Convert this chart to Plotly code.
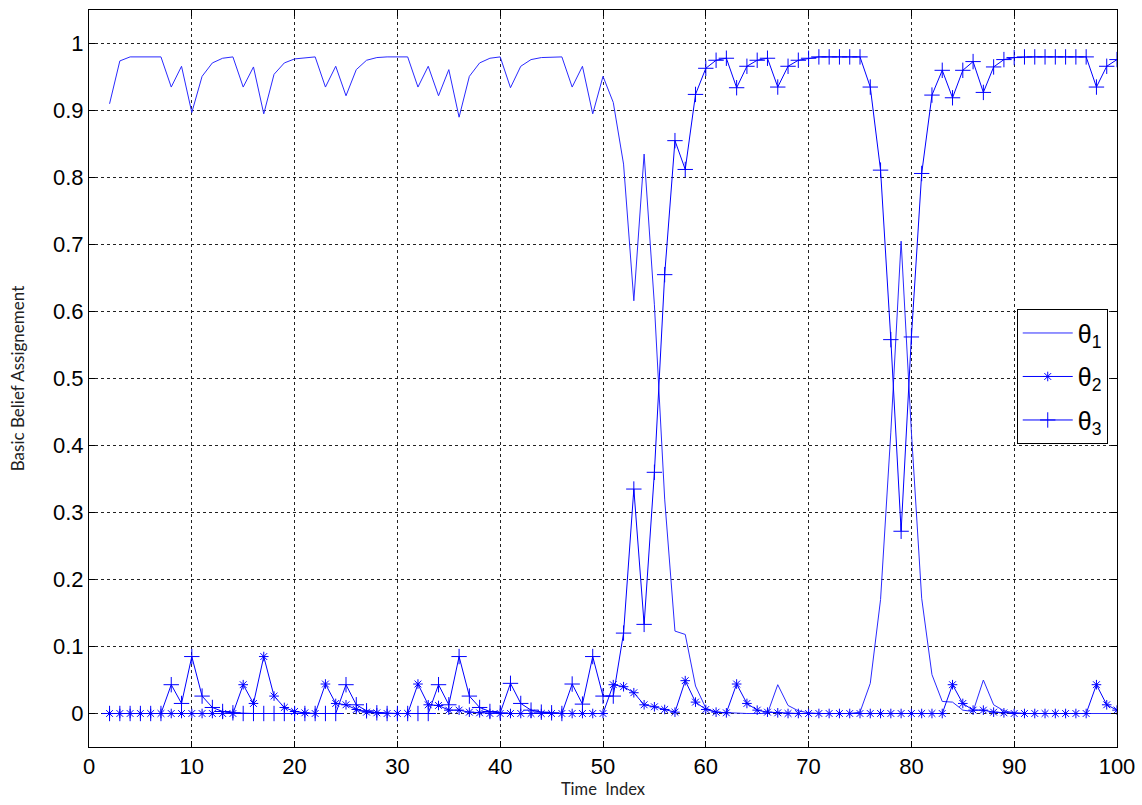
import plotly.graph_objects as go

time_index = list(range(2, 101))

theta1 = [
    0.910, 0.974, 0.980, 0.980, 0.980, 0.980, 0.935, 0.966, 0.897, 0.951,
    0.971, 0.978, 0.980, 0.935, 0.965, 0.895, 0.954, 0.971, 0.977, 0.979,
    0.980, 0.935, 0.966, 0.922, 0.961, 0.975, 0.979, 0.980, 0.980, 0.980,
    0.935, 0.966, 0.922, 0.961, 0.890, 0.951, 0.971, 0.978, 0.980, 0.934,
    0.966, 0.976, 0.979, 0.980, 0.980, 0.935, 0.966, 0.895, 0.951, 0.912,
    0.820, 0.616, 0.835, 0.610, 0.320, 0.123, 0.118, 0.041, 0.008, 0.002,
    0.001, 0.000, 0.000, 0.000, 0.000, 0.043, 0.012, 0.004, 0.001, 0.000,
    0.000, 0.000, 0.000, 0.002, 0.045, 0.170, 0.420, 0.705, 0.420, 0.172,
    0.058, 0.018, 0.017, 0.005, 0.003, 0.050, 0.013, 0.004, 0.001, 0.000,
    0.000, 0.000, 0.000, 0.000, 0.000, 0.000, 0.000, 0.000, 0.000,
]

theta2 = [
    0.000, 0.000, 0.000, 0.000, 0.000, 0.000, 0.000, 0.000, 0.000, 0.000,
    0.000, 0.000, 0.000, 0.043, 0.015, 0.085, 0.026, 0.009, 0.003, 0.001,
    0.000, 0.044, 0.015, 0.013, 0.006, 0.002, 0.001, 0.000, 0.000, 0.000,
    0.044, 0.013, 0.012, 0.005, 0.005, 0.002, 0.001, 0.000, 0.000, 0.000,
    0.000, 0.000, 0.000, 0.000, 0.000, 0.000, 0.000, 0.000, 0.000, 0.043,
    0.040, 0.031, 0.013, 0.010, 0.006, 0.002, 0.049, 0.017, 0.006, 0.002,
    0.001, 0.044, 0.015, 0.005, 0.002, 0.001, 0.000, 0.000, 0.000, 0.000,
    0.000, 0.000, 0.000, 0.000, 0.000, 0.000, 0.000, 0.000, 0.000, 0.000,
    0.000, 0.000, 0.043, 0.015, 0.005, 0.005, 0.002, 0.001, 0.000, 0.000,
    0.000, 0.000, 0.000, 0.000, 0.000, 0.000, 0.043, 0.013, 0.005,
]

theta3 = [
    0.000, 0.000, 0.000, 0.000, 0.000, 0.000, 0.043, 0.015, 0.085, 0.026,
    0.009, 0.003, 0.001, 0.000, 0.000, 0.000, 0.000, 0.000, 0.000, 0.000,
    0.000, 0.000, 0.000, 0.043, 0.013, 0.004, 0.001, 0.000, 0.000, 0.000,
    0.000, 0.000, 0.043, 0.013, 0.085, 0.026, 0.009, 0.003, 0.001, 0.045,
    0.015, 0.005, 0.002, 0.001, 0.000, 0.044, 0.014, 0.085, 0.026, 0.026,
    0.120, 0.335, 0.133, 0.360, 0.655, 0.855, 0.812, 0.924, 0.963, 0.975,
    0.978, 0.934, 0.966, 0.975, 0.978, 0.935, 0.966, 0.975, 0.978, 0.980,
    0.980, 0.980, 0.980, 0.980, 0.935, 0.811, 0.558, 0.272, 0.562, 0.806,
    0.923, 0.960, 0.919, 0.960, 0.973, 0.927, 0.965, 0.976, 0.979, 0.980,
    0.980, 0.980, 0.980, 0.980, 0.980, 0.980, 0.935, 0.966, 0.976,
]

x_ticks = list(range(0, 101, 10))
y_ticks = [i / 10 for i in range(0, 11)]
y_tick_text = ["0", "0.1", "0.2", "0.3", "0.4", "0.5", "0.6", "0.7", "0.8", "0.9", "1"]

BLUE = "#0000ff"

fig = go.Figure()
fig.add_trace(go.Scatter(
    x=time_index, y=theta1, mode="lines", name="θ<sub>1</sub>",
    legendgroup="g1",
    line=dict(color="#2a2aff", width=1),
))
fig.add_trace(go.Scatter(
    x=time_index, y=theta2, mode="lines+markers", name="θ<sub>2</sub>",
    legendgroup="g2",
    line=dict(color=BLUE, width=1),
    marker=dict(symbol="asterisk-open", size=8, color=BLUE, line=dict(color=BLUE, width=1)),
))
fig.add_trace(go.Scatter(
    x=time_index, y=theta3, mode="lines+markers", name="θ<sub>3</sub>",
    legendgroup="g3",
    line=dict(color=BLUE, width=1),
    marker=dict(symbol="cross-thin-open", size=11, color=BLUE, line=dict(color=BLUE, width=1)),
))

axis_common = dict(
    showline=True, linecolor="black", linewidth=1, mirror="ticks",
    ticks="inside", ticklen=6, tickcolor="black", tickwidth=1,
    showgrid=True, gridcolor="#222222", gridwidth=1, griddash="3px,3px",
    zeroline=False, automargin=False,
    tickfont=dict(family="Liberation Sans, Arial, sans-serif", size=22, color="black"),
)

fig.update_xaxes(
    range=[0, 100], tickmode="array", tickvals=x_ticks,
    title=dict(text="Time  Index", standoff=4,
               font=dict(family="Lato, Open Sans, sans-serif", size=16.5, color="#222222")),
    **axis_common,
)
fig.update_yaxes(
    range=[-0.05, 1.05], tickmode="array", tickvals=y_ticks, ticktext=y_tick_text,
    title=dict(text="Basic Belief Assignement", standoff=24,
               font=dict(family="Lato, Open Sans, sans-serif", size=17, color="#222222")),
    **axis_common,
)

fig.update_layout(
    width=1142, height=805,
    margin=dict(l=89, r=25, t=10, b=58),
    paper_bgcolor="white", plot_bgcolor="white",
    showlegend=True,
    legend=dict(
        x=0.991, y=0.594, xanchor="right", yanchor="top",
        bgcolor="white", bordercolor="black", borderwidth=1,
        font=dict(family="Liberation Sans, Arial, sans-serif", size=25, color="black"),
        tracegroupgap=8, itemwidth=50,
    ),
)

fig.write_html(
    "out.html",
    config={"displayModeBar": False},
    post_script="document.body.style.margin='0';document.body.style.overflow='hidden';",
)
